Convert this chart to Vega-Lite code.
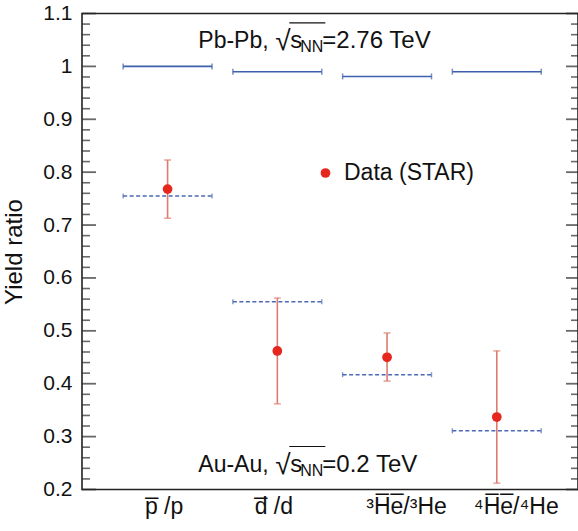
{
  "$schema": "https://vega.github.io/schema/vega-lite/v6.json",
  "autosize": {"type": "none"},
  "padding": {"left": 82, "top": 13.5, "right": 0, "bottom": 41.5},
  "width": 496,
  "height": 476,
  "config": {
    "font": "Liberation Sans",
    "view": {"stroke": "#222222", "strokeWidth": 1.6},
    "axis": {"grid": false, "domain": false}
  },
  "datasets": {
    "ratios": [
      {"cat": 1, "xlo": 0.595, "xhi": 1.405, "pb": 1.0, "au": 0.755, "star": 0.768, "lo": 0.713, "hi": 0.823, "series": "Data (STAR)"},
      {"cat": 2, "xlo": 1.595, "xhi": 2.405, "pb": 0.99, "au": 0.555, "star": 0.462, "lo": 0.362, "hi": 0.562, "series": "Data (STAR)"},
      {"cat": 3, "xlo": 2.595, "xhi": 3.405, "pb": 0.981, "au": 0.417, "star": 0.45, "lo": 0.405, "hi": 0.496, "series": "Data (STAR)"},
      {"cat": 4, "xlo": 3.595, "xhi": 4.405, "pb": 0.99, "au": 0.311, "star": 0.337, "lo": 0.212, "hi": 0.462, "series": "Data (STAR)"}
    ],
    "notes": [
      {"x": 1.28, "y": 1.035, "pre": "Pb-Pb,", "rad": "\u221a", "s": "s", "sub": "NN", "post": "=2.76 TeV"},
      {"x": 1.28, "y": 0.234, "pre": "Au-Au,", "rad": "\u221a", "s": "s", "sub": "NN", "post": "=0.2 TeV"}
    ],
    "yticks": [
      {"v": 0.2, "kind": "major"}, {"v": 0.22, "kind": "minor"}, {"v": 0.24, "kind": "minor"}, {"v": 0.26, "kind": "minor"}, {"v": 0.28, "kind": "minor"},
      {"v": 0.3, "kind": "major"}, {"v": 0.32, "kind": "minor"}, {"v": 0.34, "kind": "minor"}, {"v": 0.36, "kind": "minor"}, {"v": 0.38, "kind": "minor"},
      {"v": 0.4, "kind": "major"}, {"v": 0.42, "kind": "minor"}, {"v": 0.44, "kind": "minor"}, {"v": 0.46, "kind": "minor"}, {"v": 0.48, "kind": "minor"},
      {"v": 0.5, "kind": "major"}, {"v": 0.52, "kind": "minor"}, {"v": 0.54, "kind": "minor"}, {"v": 0.56, "kind": "minor"}, {"v": 0.58, "kind": "minor"},
      {"v": 0.6, "kind": "major"}, {"v": 0.62, "kind": "minor"}, {"v": 0.64, "kind": "minor"}, {"v": 0.66, "kind": "minor"}, {"v": 0.68, "kind": "minor"},
      {"v": 0.7, "kind": "major"}, {"v": 0.72, "kind": "minor"}, {"v": 0.74, "kind": "minor"}, {"v": 0.76, "kind": "minor"}, {"v": 0.78, "kind": "minor"},
      {"v": 0.8, "kind": "major"}, {"v": 0.82, "kind": "minor"}, {"v": 0.84, "kind": "minor"}, {"v": 0.86, "kind": "minor"}, {"v": 0.88, "kind": "minor"},
      {"v": 0.9, "kind": "major"}, {"v": 0.92, "kind": "minor"}, {"v": 0.94, "kind": "minor"}, {"v": 0.96, "kind": "minor"}, {"v": 0.98, "kind": "minor"},
      {"v": 1.0, "kind": "major"}, {"v": 1.02, "kind": "minor"}, {"v": 1.04, "kind": "minor"}, {"v": 1.06, "kind": "minor"}, {"v": 1.08, "kind": "minor"},
      {"v": 1.1, "kind": "major"}
    ]
  },
  "layer": [
    {
      "data": {"name": "ratios"},
      "mark": {"type": "rule", "color": "#3c5fae", "strokeWidth": 1.6},
      "encoding": {
        "x": {"field": "xlo", "type": "quantitative", "scale": {"domain": [0.22, 4.74], "nice": false, "zero": false},
          "axis": {"values": [1, 2, 3, 4], "ticks": false, "labelFontSize": 23, "labelPadding": 6, "labelColor": "#111111",
            "labelExpr": "datum.value == 1 ? 'p\u0305 /p' : datum.value == 2 ? 'd\u0305 /d' : datum.value == 3 ? '\u00b3H\u0305e\u0305/\u00b3He' : '\u2074H\u0305e\u0305/\u2074He'",
            "labelOffset": {"condition": {"test": "datum.value >= 3", "value": 19}, "value": -4},
            "title": null}},
        "x2": {"field": "xhi"},
        "y": {"field": "pb", "type": "quantitative", "scale": {"domain": [0.2, 1.1], "nice": false, "zero": false},
          "axis": {"orient": "left", "title": "Yield ratio", "titleFontSize": 24, "titleFontWeight": "normal", "titleColor": "#111111", "titlePadding": 16,
            "values": [0.2, 0.3, 0.4, 0.5, 0.6, 0.7, 0.8, 0.9, 1.0, 1.1],
            "labelExpr": "format(datum.value, '.1~f')",
            "labelFontSize": 21, "labelColor": "#111111", "labelPadding": 10, "ticks": false}}
      }
    },
    {
      "data": {"name": "yticks"},
      "transform": [{"filter": "datum.kind == 'major'"}],
      "mark": {"type": "tick", "orient": "horizontal", "color": "#2a2a2a", "size": 14, "thickness": 1.8, "xOffset": 7},
      "encoding": {"x": {"datum": 0.22, "type": "quantitative"}, "y": {"field": "v", "type": "quantitative"}}
    },
    {
      "data": {"name": "yticks"},
      "transform": [{"filter": "datum.kind == 'minor'"}],
      "mark": {"type": "tick", "orient": "horizontal", "color": "#2a2a2a", "size": 8, "thickness": 1.6, "xOffset": 4},
      "encoding": {"x": {"datum": 0.22, "type": "quantitative"}, "y": {"field": "v", "type": "quantitative"}}
    },
    {
      "data": {"name": "yticks"},
      "transform": [{"filter": "datum.kind == 'major'"}],
      "mark": {"type": "tick", "orient": "horizontal", "color": "#2a2a2a", "size": 12, "thickness": 1.8, "xOffset": -6},
      "encoding": {"x": {"datum": 4.74, "type": "quantitative"}, "y": {"field": "v", "type": "quantitative"}}
    },
    {
      "data": {"name": "yticks"},
      "transform": [{"filter": "datum.kind == 'minor'"}],
      "mark": {"type": "tick", "orient": "horizontal", "color": "#2a2a2a", "size": 7, "thickness": 1.6, "xOffset": -3.5},
      "encoding": {"x": {"datum": 4.74, "type": "quantitative"}, "y": {"field": "v", "type": "quantitative"}}
    },
    {
      "data": {"name": "ratios"},
      "mark": {"type": "tick", "orient": "vertical", "color": "#3c5fae", "size": 6, "thickness": 1.5},
      "encoding": {"x": {"field": "xlo", "type": "quantitative"}, "y": {"field": "pb", "type": "quantitative"}}
    },
    {
      "data": {"name": "ratios"},
      "mark": {"type": "tick", "orient": "vertical", "color": "#3c5fae", "size": 6, "thickness": 1.5},
      "encoding": {"x": {"field": "xhi", "type": "quantitative"}, "y": {"field": "pb", "type": "quantitative"}}
    },
    {
      "data": {"name": "ratios"},
      "mark": {"type": "rule", "color": "#4a68b4", "strokeWidth": 1.6, "strokeDash": [4, 2.5]},
      "encoding": {"x": {"field": "xlo", "type": "quantitative"}, "x2": {"field": "xhi"}, "y": {"field": "au", "type": "quantitative"}}
    },
    {
      "data": {"name": "ratios"},
      "mark": {"type": "tick", "orient": "vertical", "color": "#4a68b4", "size": 5, "thickness": 1.4},
      "encoding": {"x": {"field": "xlo", "type": "quantitative"}, "y": {"field": "au", "type": "quantitative"}}
    },
    {
      "data": {"name": "ratios"},
      "mark": {"type": "tick", "orient": "vertical", "color": "#4a68b4", "size": 5, "thickness": 1.4},
      "encoding": {"x": {"field": "xhi", "type": "quantitative"}, "y": {"field": "au", "type": "quantitative"}}
    },
    {
      "data": {"name": "ratios"},
      "mark": {"type": "rule", "color": "#de7b6c", "strokeWidth": 1.6},
      "encoding": {"x": {"field": "cat", "type": "quantitative"}, "y": {"field": "lo", "type": "quantitative"}, "y2": {"field": "hi"}}
    },
    {
      "data": {"name": "ratios"},
      "mark": {"type": "tick", "orient": "horizontal", "color": "#de7b6c", "size": 7, "thickness": 1.5},
      "encoding": {"x": {"field": "cat", "type": "quantitative"}, "y": {"field": "lo", "type": "quantitative"}}
    },
    {
      "data": {"name": "ratios"},
      "mark": {"type": "tick", "orient": "horizontal", "color": "#de7b6c", "size": 7, "thickness": 1.5},
      "encoding": {"x": {"field": "cat", "type": "quantitative"}, "y": {"field": "hi", "type": "quantitative"}}
    },
    {
      "data": {"name": "ratios"},
      "mark": {"type": "point", "shape": "circle", "filled": true, "size": 95, "opacity": 1},
      "encoding": {
        "x": {"field": "cat", "type": "quantitative"},
        "y": {"field": "star", "type": "quantitative"},
        "color": {"field": "series", "type": "nominal", "scale": {"domain": ["Data (STAR)"], "range": ["#e5271d"]},
          "legend": {"orient": "none", "legendX": 232, "legendY": 148, "title": null, "padding": 0,
            "labelFontSize": 23, "labelColor": "#111111", "labelOffset": 7, "symbolSize": 95, "symbolType": "circle", "symbolStrokeWidth": 0}}
      }
    },
    {
      "data": {"name": "notes"},
      "mark": {"type": "text", "align": "left", "baseline": "alphabetic", "fontSize": 23, "color": "#111111"},
      "encoding": {"x": {"field": "x", "type": "quantitative"}, "y": {"field": "y", "type": "quantitative"}, "text": {"field": "pre"}}
    },
    {
      "data": {"name": "notes"},
      "mark": {"type": "text", "align": "left", "baseline": "alphabetic", "fontSize": 28, "dx": 77, "dy": 2, "color": "#111111"},
      "encoding": {"x": {"field": "x", "type": "quantitative"}, "y": {"field": "y", "type": "quantitative"}, "text": {"field": "rad"}}
    },
    {
      "data": {"name": "notes"},
      "mark": {"type": "text", "align": "left", "baseline": "alphabetic", "fontSize": 24, "dx": 92, "color": "#111111"},
      "encoding": {"x": {"field": "x", "type": "quantitative"}, "y": {"field": "y", "type": "quantitative"}, "text": {"field": "s"}}
    },
    {
      "data": {"name": "notes"},
      "mark": {"type": "text", "align": "left", "baseline": "alphabetic", "fontSize": 16, "dx": 102, "dy": 4, "color": "#111111"},
      "encoding": {"x": {"field": "x", "type": "quantitative"}, "y": {"field": "y", "type": "quantitative"}, "text": {"field": "sub"}}
    },
    {
      "data": {"name": "notes"},
      "mark": {"type": "text", "align": "left", "baseline": "alphabetic", "fontSize": 24, "dx": 124, "color": "#111111"},
      "encoding": {"x": {"field": "x", "type": "quantitative"}, "y": {"field": "y", "type": "quantitative"}, "text": {"field": "post"}}
    },
    {
      "data": {"name": "notes"},
      "mark": {"type": "rule", "color": "#111111", "strokeWidth": 1.2, "xOffset": 91, "x2Offset": 127, "yOffset": -25},
      "encoding": {"x": {"field": "x", "type": "quantitative"}, "x2": {"field": "x"}, "y": {"field": "y", "type": "quantitative"}}
    }
  ]
}
